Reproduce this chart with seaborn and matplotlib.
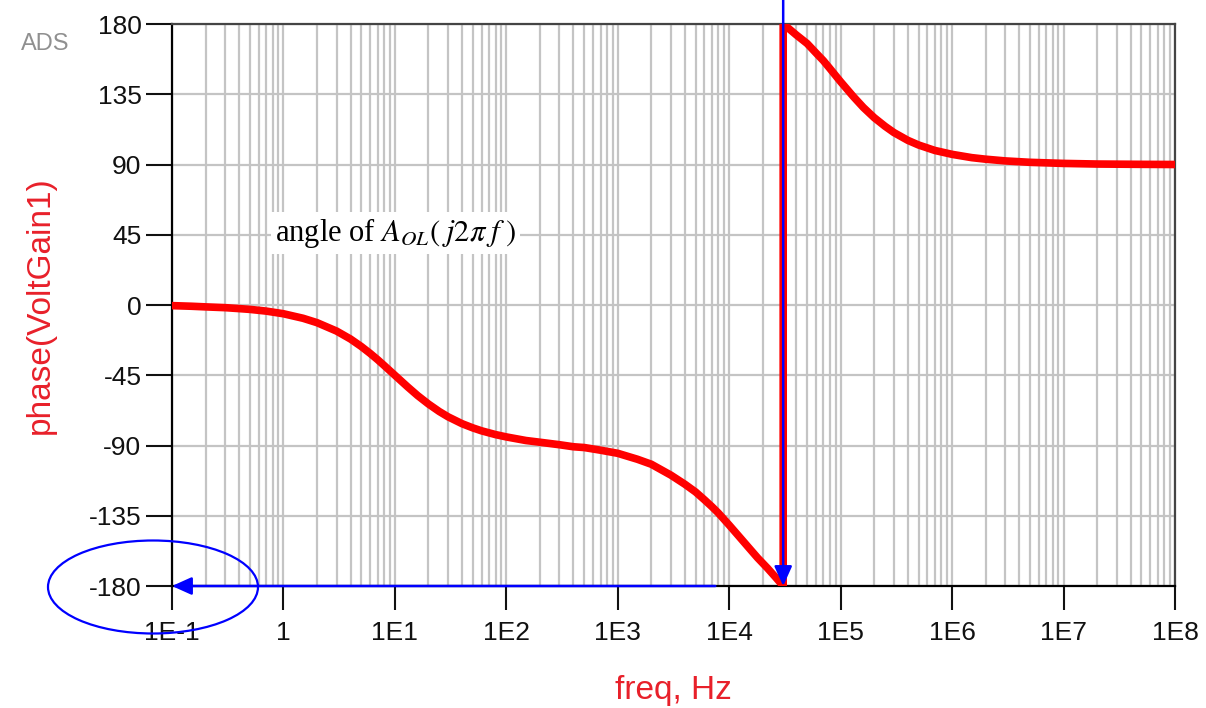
import pandas as pd
import matplotlib.pyplot as plt
import seaborn as sns
from matplotlib.patches import Ellipse
from matplotlib.ticker import FixedLocator, LogLocator, NullFormatter

# phase of the open-loop gain (degrees, wrapped at +-180)
freq = [0.1, 0.15, 0.2, 0.3, 0.4, 0.5, 0.7, 1.0,
        1.5, 2.0, 3.0, 4.0, 5.0, 6.0, 7.0, 8.0, 10.0,
        13.0, 16.0, 20.0, 25.0, 30.0, 40.0, 50.0, 60.0, 80.0, 100.0,
        150.0, 200.0, 300.0, 400.0, 500.0, 700.0, 1.0e3,
        1.5e3, 2.0e3, 3.0e3, 4.0e3, 5.0e3, 6.0e3, 7.0e3, 8.0e3, 1.0e4,
        1.2e4, 1.5e4, 1.8e4, 2.2e4, 2.6e4, 3.05e4,
        3.05e4, 3.5e4, 4.0e4, 5.0e4, 6.0e4, 7.0e4, 8.0e4, 1.0e5,
        1.3e5, 1.6e5, 2.0e5, 2.5e5, 3.0e5, 4.0e5, 5.0e5, 7.0e5, 1.0e6,
        1.5e6, 2.0e6, 3.0e6, 5.0e6, 1.0e7, 2.0e7, 5.0e7, 1.0e8]
phase = [-0.4, -0.8, -1.2, -1.7, -2.3, -2.8, -3.9, -5.6,
         -8.5, -11.3, -16.7, -21.8, -26.6, -31.0, -35.0, -38.7, -45.0,
         -52.4, -58.0, -63.4, -68.2, -71.6, -76.0, -78.7, -80.6, -83.0, -84.5,
         -86.8, -87.9, -89.5, -90.8, -91.3, -93.0, -95.0,
         -98.8, -102.0, -109.0, -114.8, -119.8, -124.8, -129.2, -133.3, -141.0,
         -147.5, -155.5, -162.0, -168.5, -174.3, -180.0,
         180.0, 176.5, 173.0, 167.5, 161.5, 156.5, 151.5, 143.0,
         133.5, 126.5, 120.0, 114.5, 110.5, 105.5, 102.5, 99.0, 96.5,
         94.4, 93.4, 92.3, 91.4, 90.7, 90.3, 90.1, 90.0]

x_ticks = [0.1, 1, 10, 100, 1e3, 1e4, 1e5, 1e6, 1e7, 1e8]
x_labels = ["1E-1", "1", "1E1", "1E2", "1E3", "1E4", "1E5", "1E6", "1E7", "1E8"]
y_ticks = [-180, -135, -90, -45, 0, 45, 90, 135, 180]

f_cross = 3.05e4   # where the phase hits -180
f_arrow_start = 7.5e3

df = pd.DataFrame({"freq": freq, "phase": phase})

sns.set_theme(style="white")
plt.rcParams["font.family"] = ["Liberation Sans", "DejaVu Sans"]
plt.rcParams["mathtext.fontset"] = "stix"

fig = plt.figure(figsize=(12.06, 7.08), dpi=100)
ax = fig.add_axes([0.1426, 0.1723, 0.8317, 0.7938])

ax.set_xscale("log")
ax.set_xlim(0.1, 1e8)
ax.set_ylim(-180, 180)

# grid: every decade + minor log lines, horizontal every 45 deg
ax.xaxis.set_major_locator(FixedLocator(x_ticks))
ax.xaxis.set_minor_locator(LogLocator(base=10, subs=range(2, 10), numticks=30))
ax.xaxis.set_minor_formatter(NullFormatter())
ax.set_xticks(x_ticks, x_labels)
ax.set_yticks(y_ticks, [str(v) for v in y_ticks])
ax.grid(True, which="both", axis="x", color="#c4c4c4", lw=1.6)
ax.grid(True, which="major", axis="y", color="#c4c4c4", lw=1.6)
ax.set_axisbelow(True)

sns.lineplot(data=df, x="freq", y="phase", sort=False, estimator=None,
             color="#ff0000", lw=5.5, ax=ax, zorder=3)

ax.tick_params(axis="x", which="major", direction="out", length=17, width=1.5,
               color="#111111", labelcolor="#111111", labelsize=19, pad=8, bottom=True)
ax.tick_params(axis="x", which="minor", length=0)
ax.tick_params(axis="y", direction="out", length=19, width=1.5, color="#111111",
               labelcolor="#111111", labelsize=19, pad=3, left=True)
for side in ["left", "bottom"]:
    ax.spines[side].set_color("black")
    ax.spines[side].set_linewidth(1.6)
for side in ["top", "right"]:
    ax.spines[side].set_color("#444444")
    ax.spines[side].set_linewidth(1.6)

ax.set_xlabel("freq, Hz", color="#e8202a", fontsize=24, labelpad=22)
ax.set_ylabel("phase(VoltGain1)", color="#e8202a", fontsize=24, labelpad=24)

# blue markers
ax.annotate("", xy=(f_cross, -180), xytext=(f_cross, 1.0),
            textcoords=("data", "figure fraction"), annotation_clip=False,
            arrowprops=dict(arrowstyle="-|>,head_length=1.0,head_width=0.45",
                            color="#0000ff", lw=1.8, shrinkA=0, shrinkB=0), zorder=5)
ax.annotate("", xy=(0.1, -180), xytext=(f_arrow_start, -180),
            arrowprops=dict(arrowstyle="-|>,head_length=1.0,head_width=0.45",
                            color="#0000ff", lw=1.8, shrinkA=0, shrinkB=0), zorder=5)
fig.patches.append(Ellipse((153 / 1206, 1 - 587 / 708), 210 / 1206, 93 / 708,
                           transform=fig.transFigure, fill=False,
                           edgecolor="#0000ff", lw=1.6))

ax.text(0.84, 46, r"angle of $A_{OL}(\;j2\pi\;f\;)$", fontsize=22,
        family=["Liberation Serif", "DejaVu Serif"], color="black", ha="left", va="center",
        bbox=dict(facecolor="white", edgecolor="none", pad=3), zorder=6)

fig.text(45 / 1206, 1 - 44 / 708, "ADS", color="#909090", fontsize=17,
         ha="center", va="center")

fig.savefig("out.png", dpi=100)
